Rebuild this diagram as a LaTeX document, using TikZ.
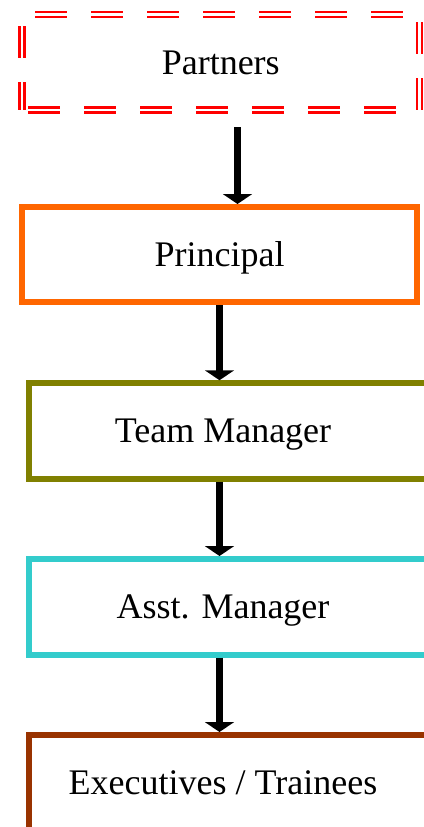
\documentclass[tikz,border=0pt]{standalone}
\usepackage{fontspec}
\setmainfont{Liberation Serif}
\usetikzlibrary{arrows.meta}
\definecolor{partnerred}{HTML}{FF0000}
\definecolor{principalorange}{HTML}{FF6600}
\definecolor{manangerolive}{HTML}{808000}
\definecolor{asstcyan}{HTML}{33CCCC}
\definecolor{staffbrown}{HTML}{993300}

\begin{document}
\begin{tikzpicture}[x=1pt,y=-1pt,
        rung/.style={draw=#1,line width=6pt,inner sep=0pt,
            minimum width=402pt,minimum height=95.5pt,
            font=\fontsize{36pt}{40pt}\selectfont,text height=23.5pt,text depth=0pt},
        link/.style={line width=6.5pt,-{Triangle[width=29pt,length=10pt]}}
    ]
        \useasboundingbox (0,0) rectangle (423,827);
        \node[rung=partnerred,line width=2.4pt,double,double distance=2.4pt,
            dash pattern=on 32pt off 24pt,dash phase=50pt,
            minimum width=397.5pt] (partners) at (220.75,62.25) {Partners};
        \node[rung=principalorange,minimum width=395pt,minimum height=95pt]
            (principal) at (219.5,254.5) {Principal};
        \node[rung=manangerolive] (manager) at (230,431) {\hspace*{-14pt}Team Manager};
        \node[rung=asstcyan] (asst) at (230,606.75) {\hspace*{-14pt}Asst. Manager};
        \node[rung=staffbrown] (staff) at (230,782.75) {\hspace*{-14pt}Executives / Trainees};
        % arrows down the ladder
        \draw[link] ([xshift=16.75pt,yshift=-15.8pt]partners.south) -- ([xshift=18pt]principal.north);
        \foreach \a/\b in {principal/manager,manager/asst,asst/staff} {
            \draw[link] (\a.south -| principal.center) -- (\b.north -| principal.center);
        }
    \end{tikzpicture}
\end{document}
